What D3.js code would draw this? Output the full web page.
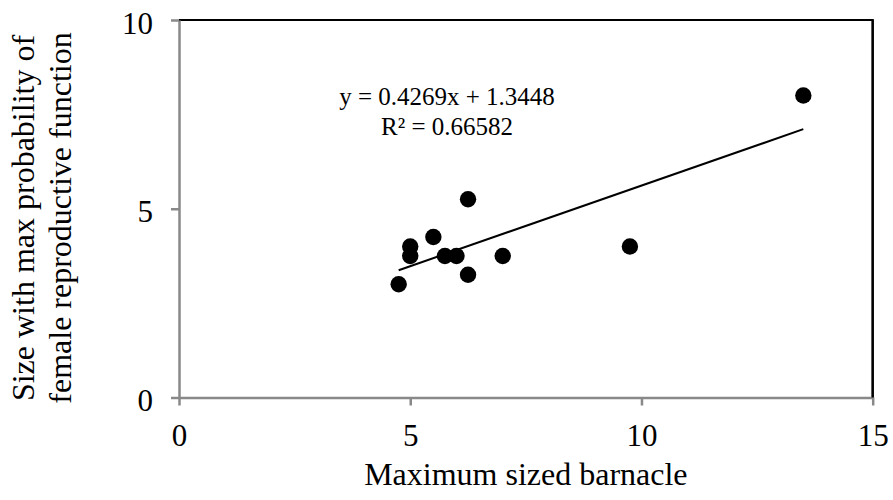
<!DOCTYPE html>
<html>
<head>
<meta charset="utf-8">
<script src="https://cdn.jsdelivr.net/npm/d3@7"></script>
<style>
  html, body { margin: 0; padding: 0; background: #fff; }
  svg { display: block; }
  svg text { font-family: "Liberation Serif", "Times New Roman", Times, "DejaVu Serif", serif !important; fill: #000; }
</style>
</head>
<body>
<svg id="chart" width="893" height="500"></svg>
<script>
// Data
const xValues = [4.75, 5.0, 5.0, 5.5, 5.75, 6.0, 6.25, 6.25, 7.0, 9.75, 13.5];
const yValues = [3.0, 3.75, 4.0, 4.25, 3.75, 3.75, 5.25, 3.25, 3.75, 4.0, 8.0];
const xTicks = [0, 5, 10, 15];
const yTicks = [0, 5, 10];
const trendSlope = 0.4269;
const trendIntercept = 1.3448;
const equationLines = ["y = 0.4269x + 1.3448", "R\u00B2 = 0.66582"];
const xTitle = "Maximum sized barnacle";
const yTitleLines = ["Size with max probability of", "female reproductive function"];

const W = 893, H = 500;
const margin = { left: 179, right: 20.3, top: 20, bottom: 102.5 };
const svg = d3.select("#chart");
const serif = "'Liberation Serif', 'Times New Roman', Times, 'DejaVu Serif', serif";

const x = d3.scaleLinear().domain([0, 15]).range([margin.left, W - margin.right]);
const y = d3.scaleLinear().domain([0, 10]).range([H - margin.bottom, margin.top]);

const axisGrey = "#898989";

// top and right border (black)
svg.append("path")
  .attr("d", `M${x(0)},${y(10)}H${x(15)}V${y(0)}`)
  .attr("fill", "none").attr("stroke", "#000").attr("stroke-width", 2.2);

// Y axis
const gy = svg.append("g").attr("transform", `translate(${x(0)},0)`)
  .call(d3.axisLeft(y).tickValues(yTicks).tickSize(8).tickSizeOuter(0).tickPadding(18).tickFormat(d3.format("d")));
gy.attr("font-family", serif);
gy.select(".domain").attr("stroke", axisGrey).attr("stroke-width", 2.5);
gy.selectAll(".tick line").attr("stroke", axisGrey).attr("stroke-width", 2.5);
gy.selectAll(".tick text").attr("font-size", 31).attr("dy", "0.42em")
  .style("font-family", serif).attr("fill", "#000");

// X axis
const gx = svg.append("g").attr("transform", `translate(0,${y(0)})`)
  .call(d3.axisBottom(x).tickValues(xTicks).tickSize(8).tickSizeOuter(0).tickPadding(18).tickFormat(d3.format("d")));
gx.attr("font-family", serif);
gx.select(".domain").attr("stroke", axisGrey).attr("stroke-width", 2.5);
gx.selectAll(".tick line").attr("stroke", axisGrey).attr("stroke-width", 2.5);
gx.selectAll(".tick text").attr("font-size", 31).attr("dy", "0.71em")
  .style("font-family", serif).attr("fill", "#000");

// Right border over axis end
svg.append("line")
  .attr("x1", x(15)).attr("x2", x(15)).attr("y1", y(10)).attr("y2", y(0))
  .attr("stroke", "#000").attr("stroke-width", 2.2);

// Points
const pts = xValues.map((v, i) => ({ x: v, y: yValues[i] }));
svg.append("g").selectAll("circle").data(pts).join("circle")
  .attr("cx", d => x(d.x)).attr("cy", d => y(d.y)).attr("r", 8.2)
  .attr("fill", "#000");

// Trendline
const xMin = d3.min(xValues), xMax = d3.max(xValues);
svg.append("line")
  .attr("x1", x(xMin)).attr("y1", y(trendSlope * xMin + trendIntercept))
  .attr("x2", x(xMax)).attr("y2", y(trendSlope * xMax + trendIntercept))
  .attr("stroke", "#000").attr("stroke-width", 2);

// Equation
svg.append("g").selectAll("text").data(equationLines).join("text")
  .attr("x", 447).attr("y", (d, i) => 105 + i * 30)
  .attr("text-anchor", "middle").attr("font-size", 25)
  .style("font-family", serif)
  .text(d => d);

// X title
svg.append("text")
  .attr("x", (x(0) + x(15)) / 2).attr("y", 485)
  .attr("text-anchor", "middle").attr("font-size", 32)
  .style("font-family", serif)
  .text(xTitle);

// Y title
const yt = svg.append("text")
  .attr("transform", `translate(34,218) rotate(-90)`)
  .attr("text-anchor", "middle").attr("font-size", 32)
  .style("font-family", serif);
yt.selectAll("tspan").data(yTitleLines).join("tspan")
  .attr("x", 0).attr("y", (d, i) => i * 37)
  .text(d => d);
</script>
</body>
</html>
